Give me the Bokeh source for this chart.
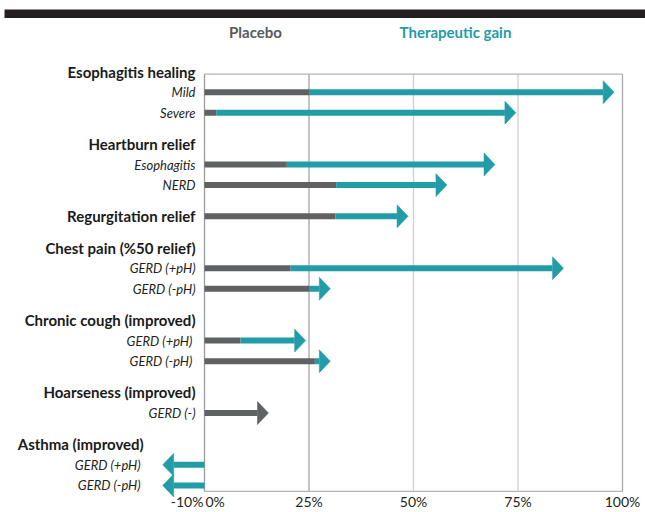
import numpy as np
from bokeh.plotting import figure
from bokeh.models import Range1d, BoxAnnotation
from bokeh.core.properties import value
from bokeh.embed import file_html
from bokeh.resources import INLINE

# ---------------- data ----------------
groups = ["Esophagitis healing", "Heartburn relief", "Regurgitation relief",
          "Chest pain (%50 relief)", "Chronic cough (improved)",
          "Hoarseness (improved)", "Asthma (improved)"]
sub_labels = ["Mild", "Severe", "Esophagitis", "NERD", "",
              "GERD (+pH)", "GERD (-pH)", "GERD  (+pH)", "GERD  (-pH)",
              "GERD (-)", "GERD  (+pH)", "GERD  (-pH)"]
sub_group = [0, 0, 1, 1, 2, 3, 3, 4, 4, 5, 6, 6]
placebo = [25, 2.8, 19.7, 31.5, 31.3, 20.6, 25, 8.6, 26.4, 15.3, 0, 0]
gain = [73, 71.7, 49.8, 26.5, 17.4, 65.3, 5.1, 15.6, 3.7, 0, -10, -10]
x_ticks = [-10, 0, 25, 50, 75, 100]
tick_labels = ["-10%", "0%", "25%", "50%", "75%", "100%"]
legend_labels = ["Placebo", "Therapeutic gain"]

# ---------------- style / layout ----------------
GREY = "#5f6163"
TEAL = "#229ca6"
FONT = "Lato"
W, H = 645, 512
ORIGIN_X, ORIGIN_Y = 0, 0   # page position of the figure
PX_X, X0 = 4.18, 204.0      # px per %, page x of 0%
PX_Y, Y0 = 20.57, 71.06     # px per row, page y of first row
GAP = 0.52

def page_y(py):
    return (py - Y0) / PX_Y

def page_x(px):
    return (px - X0) / PX_X

# row layout from group structure
row_y = []
header_y = []
pos = 0.0
for g in range(len(groups)):
    if g > 0:
        pos += GAP
    idx = [i for i, sg in enumerate(sub_group) if sg == g]
    if len(idx) == 1 and sub_labels[idx[0]] == "":
        header_y.append(pos)
        row_y.append(pos)
        pos += 1
    else:
        header_y.append(pos)
        pos += 1
        for _ in idx:
            row_y.append(pos)
            pos += 1

placebo_a = np.array(placebo, float)
gain_a = np.array(gain, float)
tip = placebo_a + gain_a
ry = np.array(row_y)

head_len = 11.0 / PX_X
head_half = 11.5 / PX_Y
bar_h = 6.0 / PX_Y
direction = np.sign(np.where(tip == 0, 1, tip))
shaft_end = tip - direction * head_len

p = figure(width=W, height=H,
           x_range=Range1d(page_x(ORIGIN_X), page_x(ORIGIN_X + W)),
           y_range=Range1d(page_y(ORIGIN_Y + H), page_y(ORIGIN_Y)),
           output_backend="svg", toolbar_location=None,
           x_axis_type=None, y_axis_type=None,
           min_border=0, outline_line_color=None,
           background_fill_color="white", border_fill_color="white")
p.xgrid.visible = False
p.ygrid.visible = False

# top black band
p.add_layout(BoxAnnotation(top=page_y(9), bottom=page_y(17.5), left=page_x(4),
                           fill_color="#231f20", fill_alpha=1, line_alpha=0))

box_top = row_y[0] - 0.88
box_bottom = row_y[-1] + 0.29

# grid / frame
grid_colors = ["#9c9c9c", "#a4a4a4", "#d0d0d0", "#d0d0d0", "#a8a8a8"]
gx = x_ticks[1:]
p.segment(x0=gx, x1=gx, y0=[box_top] * len(gx), y1=[box_bottom] * len(gx),
          line_color=grid_colors, line_width=1.3)
p.segment(x0=[0, 0], x1=[100, 100], y0=[box_top, box_bottom], y1=[box_top, box_bottom],
          line_color="#b4b4b4", line_width=1.3)

# placebo bars
grey_right = np.where(gain_a == 0, shaft_end, placebo_a)
p.hbar(y=ry, left=0, right=grey_right, height=bar_h, fill_color=GREY, line_color=None)
# therapeutic gain shafts
has_gain = gain_a != 0
p.hbar(y=ry[has_gain], left=placebo_a[has_gain], right=shaft_end[has_gain],
       height=bar_h, fill_color=TEAL, line_color=None)
# arrow heads
xs = [[s, t, s] for s, t in zip(shaft_end, tip)]
ys = [[y - head_half, y, y + head_half] for y in ry]
head_col = [TEAL if gv != 0 else GREY for gv in gain]
p.patches(xs=xs, ys=ys, fill_color=head_col, line_color=head_col, line_width=0.5)

# group headers
grp_anchor = []
grp_off = []
for g in range(len(groups)):
    m = min([0.0] + [tip[i] for i, sg in enumerate(sub_group) if sg == g])
    grp_anchor.append(m)
    grp_off.append(-9 if m == 0 else -19)
p.text(x=grp_anchor, y=header_y, text=groups, x_offset=grp_off,
       text_align="right", text_baseline="middle",
       text_font=value(FONT), text_font_style="bold", text_font_size="15px",
       text_color="#1a1a1a")

# sub labels
sub_idx = [i for i, s in enumerate(sub_labels) if s]
p.text(x=[grp_anchor[sub_group[i]] for i in sub_idx], y=[row_y[i] for i in sub_idx],
       text=[sub_labels[i] for i in sub_idx],
       x_offset=[grp_off[sub_group[i]] for i in sub_idx],
       text_align="right", text_baseline="middle",
       text_font=value(FONT), text_font_style="italic", text_font_size="13px",
       text_color="#231f20")

# legend texts
p.text(x=[page_x(255), page_x(455)], y=[page_y(31)] * 2, text=legend_labels,
       text_align="center", text_baseline="middle",
       text_font=value(FONT), text_font_style="bold", text_font_size="15px",
       text_color=["#58595b", TEAL])

# tick labels
p.text(x=x_ticks, y=[box_bottom] * len(x_ticks), text=tick_labels,
       x_offset=[8, 1, 0, 0, 0, 0], y_offset=10,
       text_align=["left", "left", "center", "center", "center", "center"],
       text_baseline="middle",
       text_font=value(FONT), text_font_size="14px", text_color="#231f20")

open("out.html", "w").write(file_html(p, INLINE))
